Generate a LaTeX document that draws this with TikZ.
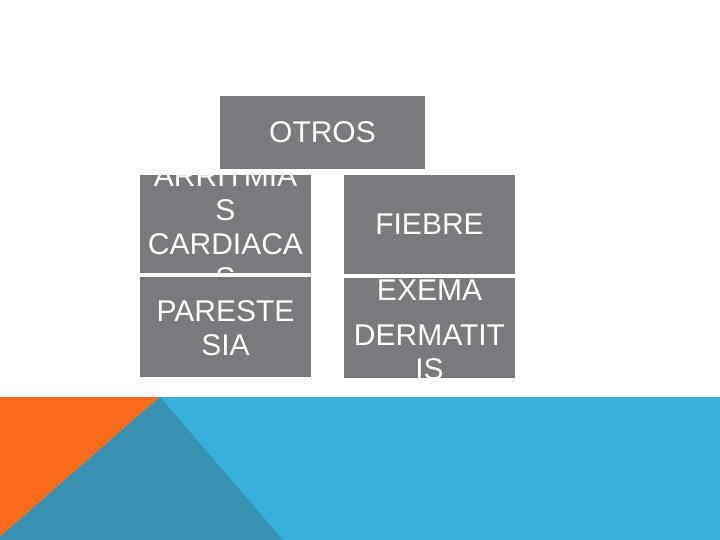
\documentclass[tikz,border=0pt]{standalone}
\usepackage{fontspec}
\setmainfont{Liberation Sans}
\usetikzlibrary{positioning}
\definecolor{boxgray}{RGB}{122,122,126}
\definecolor{bandblue}{RGB}{56,176,222}
\definecolor{bandteal}{RGB}{55,146,177}
\definecolor{bandorange}{RGB}{249,107,27}
\tikzset{
  cell/.style={fill=boxgray, inner sep=0pt, minimum width=171pt, minimum height=98pt},
  celltext/.style={text=white, align=center, inner sep=0pt, font=\fontsize{30}{34}\selectfont}
}
\begin{document}
\begin{tikzpicture}[x=1pt,y=-1pt]
        \useasboundingbox (0,0) rectangle (720,540);
        % bottom band
        \fill[bandblue] (0,397) rectangle (720,540);
        \fill[bandorange] (0,397) -- (160,397) -- (0,537) -- cycle;
        \fill[bandteal] (160,397) -- (283,540) -- (0,540) -- (0,537) -- cycle;
        % top box
        \node[cell, minimum width=205pt, minimum height=73pt] (otros) at (322.5,132.5) {};
        \node[celltext] (otrostxt) at (otros.center) {OTROS};
        % left column
        \node[cell] (arritmias) at (225.5,224) {};
        \begin{scope}
            \clip (arritmias.south west) rectangle (arritmias.north east);
            \node[celltext] (arritmiastxt) at (225.5,227) {ARRITMIA\\S\\CARDIACA\\S};
        \end{scope}
        \node[cell, minimum height=100pt] (parestesia) at (225.5,327) {};
        \node[celltext] (parestesiatxt) at (225.5,328.5) {PARESTE\\SIA};
        % right column
        \node[cell, minimum height=99pt] (fiebre) at (429.5,224.5) {};
        \node[celltext] (fiebretxt) at (fiebre.center) {FIEBRE};
        \node[cell, minimum height=100pt] (exema) at (429.5,328) {};
        \begin{scope}
            \clip (exema.south west) rectangle (exema.north east);
            \node[celltext] (exematxt) at (429.5,329.5) {EXEMA\\[11pt]DERMATIT\\IS};
        \end{scope}
    \end{tikzpicture}
\end{document}
